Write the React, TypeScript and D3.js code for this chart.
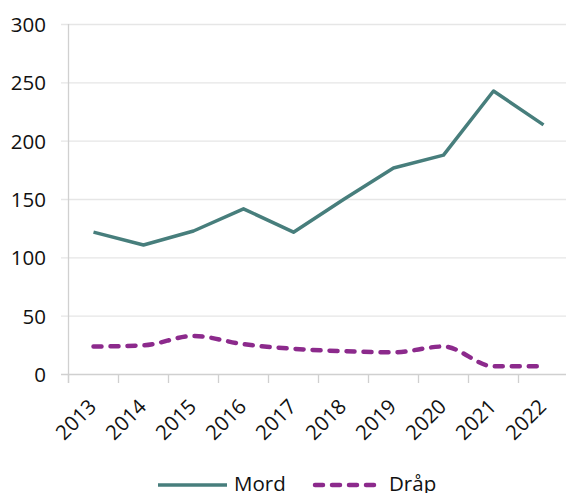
import React from "react";
import * as d3 from "d3";

const years = ["2013", "2014", "2015", "2016", "2017", "2018", "2019", "2020", "2021", "2022"];
const mord = [122, 111, 123, 142, 122, 150, 177, 188, 243, 214];
const drap = [24, 25, 33, 26, 22, 20, 19, 24, 7, 7];
const yTicks = [0, 50, 100, 150, 200, 250, 300];

const W = 566;
const H = 493;
const FONT = "'Open Sans', 'Liberation Sans', sans-serif";
const MORD_COLOR = "#477E7C";
const DRAP_COLOR = "#8C2A8C";

export default function App() {
  const x = d3.scaleBand<string>().domain(years).range([68.5, 568.5]);
  const y = d3.scaleLinear().domain([0, 300]).range([374.5, 24.5]);
  const cx = (d: string) => (x(d) as number) + x.bandwidth() / 2;

  const mordLine = d3
    .line<number>()
    .x((_, i) => cx(years[i]))
    .y((v) => y(v));
  const drapLine = d3
    .line<number>()
    .x((_, i) => cx(years[i]))
    .y((v) => y(v))
    .curve(d3.curveMonotoneX);

  const xTickPos = years.map((d) => x(d) as number);

  return (
    <svg width={W} height={H} style={{ position: "absolute", left: 0, top: 0 }}>
      <rect width={W} height={H} fill="#fff" />
      {yTicks.map((t) => (
        <g key={t}>
          <line x1={61} x2={568} y1={y(t)} y2={y(t)} stroke={t === 0 ? "#d0d0d0" : "#e6e6e6"} strokeWidth={1.3} />
          <text x={46} y={y(t)} dy="0.36em" textAnchor="end" fontFamily={FONT} fontSize={20.5} fill="#111">
            {t}
          </text>
        </g>
      ))}
      <line x1={68.5} x2={68.5} y1={24} y2={383} stroke="#d0d0d0" strokeWidth={1.3} />
      {xTickPos.map((p, i) => (
        <line key={i} x1={p} x2={p} y1={374.5} y2={383} stroke="#d0d0d0" strokeWidth={1.3} />
      ))}
      {years.map((d) => (
        <text
          key={d}
          transform={`translate(${cx(d) + 4},${408}) rotate(-45)`}
          textAnchor="end"
          fontFamily={FONT}
          fontSize={20.5}
          fill="#111"
        >
          {d}
        </text>
      ))}
      <path d={mordLine(mord) || ""} fill="none" stroke={MORD_COLOR} strokeWidth={3.5} strokeLinejoin="round" />
      <path
        d={drapLine(drap) || ""}
        fill="none"
        stroke={DRAP_COLOR}
        strokeWidth={4.5}
        strokeDasharray="8,9"
        strokeLinecap="round"
      />
      <line x1={158} x2={227} y1={485} y2={485} stroke={MORD_COLOR} strokeWidth={3.5} />
      <text x={234} y={491} fontFamily={FONT} fontSize={20.5} fill="#111">
        Mord
      </text>
      <line
        x1={315}
        x2={382}
        y1={485}
        y2={485}
        stroke={DRAP_COLOR}
        strokeWidth={4.5}
        strokeDasharray="8,9"
        strokeLinecap="round"
      />
      <text x={389} y={491} fontFamily={FONT} fontSize={20.5} fill="#111">
        Dråp
      </text>
    </svg>
  );
}
